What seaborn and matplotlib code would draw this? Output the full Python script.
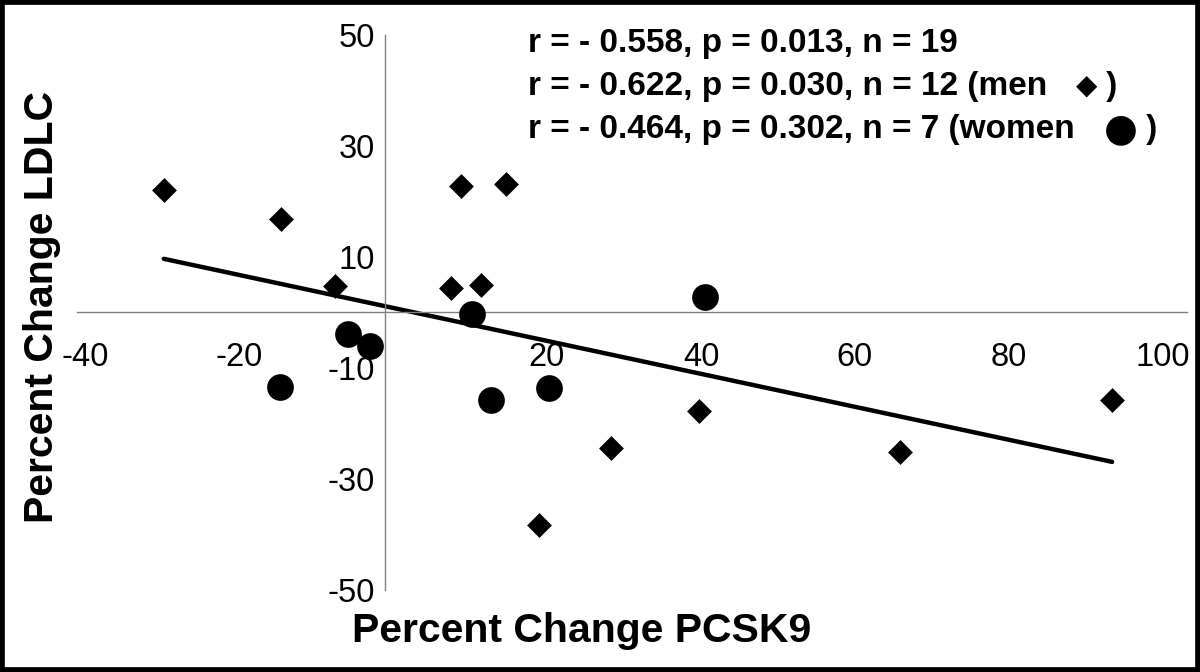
import numpy as np
import pandas as pd
import seaborn as sns
import matplotlib.pyplot as plt
from matplotlib.patches import Rectangle
from matplotlib.transforms import ScaledTranslation

# values
men_pcsk9 = [-28.7, -13.5, -6.4, 8.6, 9.9, 12.5, 15.8, 20.1, 29.4, 40.8, 67.0, 94.5]
men_ldlc = [22.1, 16.8, 4.7, 4.5, 22.8, 4.9, 23.2, -38.2, -24.5, -17.8, -25.2, -15.8]
women_pcsk9 = [-13.6, -4.8, -1.9, 11.4, 13.8, 21.3, 41.6]
women_ldlc = [-13.4, -3.8, -6.0, -0.2, -15.8, -13.6, 2.7]

x_ticks = [-40, -20, 0, 20, 40, 60, 80, 100]
x_labels = ["-40", "-20", "", "20", "40", "60", "80", "100"]
y_ticks = [-50, -30, -10, 10, 30, 50]

stats_lines = ["r = - 0.558, p = 0.013, n = 19",
               "r = - 0.622, p = 0.030, n = 12 (men ",
               "r = - 0.464, p = 0.302, n = 7 (women "]

men = pd.DataFrame({"pcsk9": men_pcsk9, "ldlc": men_ldlc})
women = pd.DataFrame({"pcsk9": women_pcsk9, "ldlc": women_ldlc})
everyone = pd.concat([men, women], ignore_index=True)

sns.set_style("white")
plt.rcParams["font.family"] = ["Liberation Sans", "DejaVu Sans"]
plt.rcParams["text.color"] = "black"
plt.rcParams["axes.labelcolor"] = "black"
plt.rcParams["xtick.color"] = "black"
plt.rcParams["ytick.color"] = "black"

fig = plt.figure(figsize=(12, 6.72), dpi=100)
ax = fig.add_axes([0.064, 0.122, 0.925, 0.826])

# regression line over all 19 subjects
sns.regplot(data=everyone, x="pcsk9", y="ldlc", scatter=False, ci=None,
            color="black", line_kws={"linewidth": 3.2}, ax=ax)
sns.scatterplot(data=men, x="pcsk9", y="ldlc", marker="D", s=160,
                color="black", edgecolor="black", linewidth=0, ax=ax, zorder=3)
sns.scatterplot(data=women, x="pcsk9", y="ldlc", marker="o", s=370,
                color="black", edgecolor="black", linewidth=0, ax=ax, zorder=3)

ax.set_xlim(-40, 104.2)
ax.set_ylim(-50, 50)

# axes crossing at the origin
for side in ["top", "right"]:
    ax.spines[side].set_visible(False)
for side in ["left", "bottom"]:
    ax.spines[side].set_position(("data", 0))
    ax.spines[side].set_color("#808080")
    ax.spines[side].set_linewidth(1.0)

ax.set_xticks(x_ticks)
ax.set_yticks(y_ticks)
ax.set_xticklabels(x_labels)
ax.set_yticklabels([str(t) for t in y_ticks])
ax.tick_params(axis="x", direction="inout", length=8, width=0.8, color="#808080",
               labelsize=23.5, pad=17)
ax.tick_params(axis="y", direction="out", length=5, width=0.8, color="#808080",
               labelsize=23.5, pad=2)
# x labels sit a little right of their ticks in the original
shift = ScaledTranslation(6 / 72, 0, fig.dpi_scale_trans)
for lab in ax.get_xticklabels():
    lab.set_transform(lab.get_transform() + shift)

ax.set_xlabel("Percent Change PCSK9", fontsize=29.5, fontweight="bold")
ax.set_ylabel("Percent Change LDLC", fontsize=29.5, fontweight="bold")
ax.xaxis.set_label_coords(0.455, -0.04)
ax.yaxis.set_label_coords(-0.014, 0.51)

# correlation stats
fs = 24
fig.text(0.44, 0.936, stats_lines[0], fontsize=fs, fontweight="bold", va="center")
t2 = fig.text(0.44, 0.872, stats_lines[1], fontsize=fs, fontweight="bold", va="center")
d = ax.annotate("\u25c6", xy=(1, 0.5), xycoords=t2, xytext=(14, 0),
                textcoords="offset points", va="center", ha="left",
                fontsize=fs - 4, family=["DejaVu Sans"])
ax.annotate(" )", xy=(1, 0.5), xycoords=d, va="center", ha="left",
            fontsize=fs, fontweight="bold")
t3 = fig.text(0.44, 0.808, stats_lines[2], fontsize=fs, fontweight="bold", va="center")
c = ax.annotate("\u25cf", xy=(1, 0.5), xycoords=t3, xytext=(14, 0),
                textcoords="offset points", va="center", ha="left",
                fontsize=fs + 4, family=["DejaVu Sans"])
ax.annotate(" )", xy=(1, 0.5), xycoords=c, va="center", ha="left",
            fontsize=fs, fontweight="bold")

# black frame round the picture
fig.patches.append(Rectangle((0, 0), 1, 1, transform=fig.transFigure,
                             fill=False, edgecolor="black", linewidth=7))

fig.savefig("out.png", dpi=100)
